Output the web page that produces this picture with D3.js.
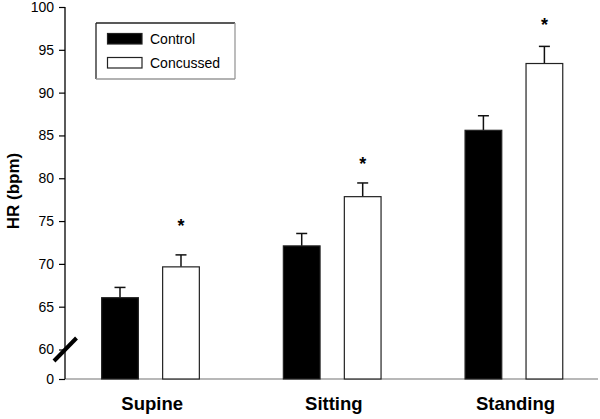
<!DOCTYPE html>
<html>
<head>
<meta charset="utf-8">
<script src="https://cdn.jsdelivr.net/npm/d3@7"></script>
<style>
  body { margin: 0; background: #fff; }
  svg { display: block; font-family: "Liberation Sans", Arial, sans-serif; }
</style>
</head>
<body>
<svg id="chart" width="600" height="419"></svg>
<script>
// ---- data ----
const categories = ["Supine", "Sitting", "Standing"];
const seriesNames = ["Control", "Concussed"];
const controlMean = [66.05, 72.1, 85.6];
const controlErr = [1.2, 1.45, 1.7];
const concussedMean = [69.65, 77.85, 93.4];
const concussedErr = [1.4, 1.6, 2.0];
const significant = [true, true, true];
const starLevel = [74.9, 82.1, 98.4];
const yTicks = [0, 60, 65, 70, 75, 80, 85, 90, 95, 100];

// ---- layout ----
const svg = d3.select("#chart");
const axisX = 65, axisRight = 598;

// broken axis: 0 .. 60 compressed, 60..100 linear
const y = d3.scaleLinear().domain([0, 60, 100]).range([379, 349.5, 7]);
const x = d3.scaleBand().domain(categories).range([59.3, 604.4]).padding(0);
const xs = d3.scaleBand().domain(seriesNames).range([-48.5, 49.2]).paddingInner(0.398).paddingOuter(0);

const data = categories.map((c, i) => ({
  cat: c,
  vals: [
    { s: "Control", v: controlMean[i], e: controlErr[i] },
    { s: "Concussed", v: concussedMean[i], e: concussedErr[i] }
  ]
}));

const fill = { Control: "#000", Concussed: "#fff" };

// x axis line (gray)
svg.append("line")
  .attr("x1", axisX).attr("x2", axisRight)
  .attr("y1", y(0)).attr("y2", y(0))
  .attr("stroke", "#a0a0a0").attr("stroke-width", 1.5);

// bars
const g = svg.append("g");
data.forEach((d, i) => {
  const cx = x(d.cat) + x.bandwidth() / 2;
  d.vals.forEach(b => {
    const x0 = cx + xs(b.s);
    const w = xs.bandwidth();
    const xm = x0 + w / 2;
    g.append("line")
      .attr("x1", xm).attr("x2", xm)
      .attr("y1", y(b.v)).attr("y2", y(b.v + b.e))
      .attr("stroke", "#111").attr("stroke-width", 1.5);
    g.append("line")
      .attr("x1", xm - 5.5).attr("x2", xm + 5.5)
      .attr("y1", y(b.v + b.e)).attr("y2", y(b.v + b.e))
      .attr("stroke", "#111").attr("stroke-width", 1.5);
    g.append("rect")
      .attr("x", x0).attr("y", y(b.v))
      .attr("width", w).attr("height", y(0) - y(b.v))
      .attr("fill", fill[b.s])
      .attr("stroke", "#222").attr("stroke-width", 1.2);
  });
  if (significant[i]) {
    const b = d.vals[1];
    g.append("text")
      .attr("x", cx + xs(b.s) + xs.bandwidth() / 2)
      .attr("y", y(starLevel[i]) + 10)
      .attr("text-anchor", "middle")
      .attr("font-size", 18).attr("font-weight", "bold")
      .text("*");
  }
});

// y axis
const yAxis = svg.append("g")
  .attr("transform", `translate(${axisX},0)`)
  .call(d3.axisLeft(y).tickValues(yTicks).tickSize(6).tickPadding(5).tickFormat(d3.format("d")));
yAxis.select(".domain").attr("stroke", "#000").attr("stroke-width", 1.3).attr("d", `M0,${y(100)}V${y(0)}`);
yAxis.selectAll(".tick line").attr("stroke", "#000").attr("stroke-width", 1.2);
yAxis.selectAll(".tick text").attr("font-size", 14).attr("fill", "#000")
  .attr("font-family", "Liberation Sans, Arial, sans-serif");

// axis break mark
svg.append("line")
  .attr("x1", axisX - 11).attr("y1", y(60) + 11.5)
  .attr("x2", axisX + 11.5).attr("y2", y(60) - 11.5)
  .attr("stroke", "#000").attr("stroke-width", 4);

// category labels
svg.append("g").selectAll("text").data(categories).join("text")
  .attr("x", d => x(d) + x.bandwidth() / 2 + 2)
  .attr("y", 410)
  .attr("text-anchor", "middle")
  .attr("font-size", 18.5).attr("font-weight", "bold")
  .text(d => d);

// y label
svg.append("text")
  .attr("transform", "translate(18.5,191) rotate(-90)")
  .attr("text-anchor", "middle")
  .attr("font-size", 17).attr("font-weight", "bold")
  .text("HR (bpm)");

// legend
const lg = svg.append("g");
const lx0 = 96, ly0 = 23, lx1 = 235, ly1 = 79;
lg.append("line").attr("x1", lx0).attr("y1", ly0).attr("x2", lx1).attr("y2", ly0).attr("stroke", "#222").attr("stroke-width", 1.3);
lg.append("line").attr("x1", lx0).attr("y1", ly0).attr("x2", lx0).attr("y2", ly1).attr("stroke", "#222").attr("stroke-width", 1.3);
lg.append("line").attr("x1", lx1).attr("y1", ly0).attr("x2", lx1).attr("y2", ly1).attr("stroke", "#999").attr("stroke-width", 1.3);
lg.append("line").attr("x1", lx0).attr("y1", ly1).attr("x2", lx1).attr("y2", ly1).attr("stroke", "#999").attr("stroke-width", 1.3);
seriesNames.forEach((s, i) => {
  const yy = 33.5 + i * 24;
  lg.append("rect").attr("x", 107.5).attr("y", yy).attr("width", 34.5).attr("height", 10.5)
    .attr("fill", fill[s]).attr("stroke", "#222").attr("stroke-width", 1.2);
  lg.append("text").attr("x", 150).attr("y", yy + 10).attr("font-size", 14).text(s);
});
</script>
</body>
</html>
